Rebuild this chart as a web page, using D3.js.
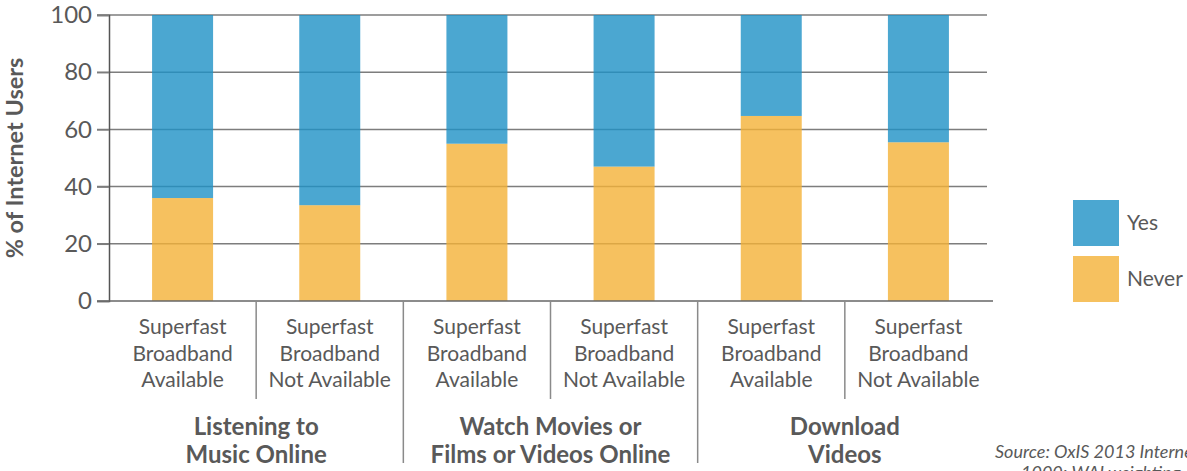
<!DOCTYPE html>
<html>
<head>
<meta charset="utf-8">
<script src="https://cdn.jsdelivr.net/npm/d3@7"></script>
<style>
  body { margin: 0; background: #fff; }
  svg { display: block; font-family: Lato, 'Open Sans', sans-serif; }
</style>
</head>
<body>
<svg width="1187" height="471"></svg>
<script>
// data
const groups = [['Listening to', 'Music Online'], ['Watch Movies or', 'Films or Videos Online'], ['Download', 'Videos']];
const bars = ['m-avail', 'm-not', 'f-avail', 'f-not', 'd-avail', 'd-not'];
const barGroup = [0, 0, 1, 1, 2, 2];
const subLabels = [
  ['Superfast', 'Broadband', 'Available'],
  ['Superfast', 'Broadband', 'Not Available']
];
const neverVals = [36, 33.5, 55, 47, 64.7, 55.5];
const yesVals = [64, 66.5, 45, 53, 35.3, 44.5];
const yTicks = [0, 20, 40, 60, 80, 100];
const seriesNames = ['Never', 'Yes'];

const svg = d3.select('svg');
const textColor = '#595959';
const colors = { Never: '#f4b237', Yes: '#1e91c5' };

const x = d3.scaleBand().domain(bars).range([109, 992]).padding(0);
const y = d3.scaleLinear().domain([0, 100]).range([301, 15]);
const barW = 61;

const table = bars.map((b, i) => ({ key: b, Never: neverVals[i], Yes: yesVals[i] }));
const stacked = d3.stack().keys(seriesNames)(table);

//gridlines
svg.append('g').selectAll('line')
  .data(yTicks.filter(t => t > 0)).enter()
  .append('line')
  .attr('x1', 97).attr('x2', 987)
  .attr('y1', d => y(d)).attr('y2', d => y(d))
  .attr('stroke', '#7d7d7d')
  .attr('stroke-width', 1.5);

//bars
svg.append('g').selectAll('g')
  .data(stacked).enter()
  .append('g')
  .attr('fill', d => colors[d.key])
  .attr('fill-opacity', 0.8)
  .selectAll('rect')
  .data(d => d).enter()
  .append('rect')
  .attr('x', d => x(d.data.key) + x.bandwidth() / 2 - barW / 2)
  .attr('width', barW)
  .attr('y', d => y(d[1]))
  .attr('height', d => y(d[0]) - y(d[1]));

//y axis
const yAxis = svg.append('g')
  .attr('transform', 'translate(109,0)')
  .call(d3.axisLeft(y).tickValues(yTicks).tickSize(12).tickPadding(5));
yAxis.select('.domain').attr('stroke', '#555').attr('stroke-width', 1.5);
yAxis.selectAll('.tick line').attr('stroke', '#7d7d7d').attr('stroke-width', 1.5);
yAxis.selectAll('.tick text')
  .attr('fill', textColor)
  .style('font-size', '24px')
  .style('font-family', 'Lato');

svg.append('text')
  .attr('transform', 'translate(23,158) rotate(-90)')
  .attr('text-anchor', 'middle')
  .attr('fill', textColor)
  .style('font-size', '23.5px')
  .style('font-weight', 'bold')
  .text('% of Internet Users');

//baseline
svg.append('line')
  .attr('x1', 97).attr('x2', 993)
  .attr('y1', y(0)).attr('y2', y(0))
  .attr('stroke', '#666').attr('stroke-width', 1.5);

//separators under the axis
svg.append('g').selectAll('line')
  .data(bars.slice(1)).enter()
  .append('line')
  .attr('x1', d => x(d)).attr('x2', d => x(d))
  .attr('y1', y(0))
  .attr('y2', (d, i) => barGroup[i + 1] !== barGroup[i] ? 463 : 399)
  .attr('stroke', '#8a8a8a').attr('stroke-width', 1.5);

//sub labels
svg.append('g').selectAll('text')
  .data(bars).enter()
  .append('text')
  .attr('text-anchor', 'middle')
  .attr('fill', textColor)
  .style('font-size', '21px')
  .each(function(d, i) {
    const lines = subLabels[i % 2];
    const cx = x(d) + x.bandwidth() / 2;
    lines.forEach((l, j) => {
      d3.select(this).append('tspan')
        .attr('x', cx)
        .attr('y', 334 + j * 26.5)
        .text(l);
    });
  });

//group labels
svg.append('g').selectAll('text')
  .data(groups).enter()
  .append('text')
  .attr('text-anchor', 'middle')
  .attr('fill', textColor)
  .style('font-size', '24px')
  .style('font-weight', 'bold')
  .each(function(d, gi) {
    const members = bars.filter((b, i) => barGroup[i] === gi);
    const cx = (x(members[0]) + x(members[members.length - 1]) + x.bandwidth()) / 2;
    d.forEach((l, j) => {
      d3.select(this).append('tspan')
        .attr('x', cx)
        .attr('y', 435 + j * 27.5)
        .text(l);
    });
  });

//legend
const legend = svg.append('g').selectAll('g')
  .data(['Yes', 'Never']).enter()
  .append('g')
  .attr('transform', (d, i) => `translate(1073,${200 + i * 56})`);
legend.append('rect')
  .attr('width', 46).attr('height', 46)
  .attr('fill', d => colors[d]).attr('fill-opacity', 0.8);
legend.append('text')
  .attr('x', 54).attr('y', 23).attr('dy', '0.35em')
  .attr('fill', textColor)
  .style('font-size', '21px')
  .text(d => d);

//source note (runs off the right edge, as in the original)
svg.append('text')
  .attr('x', 995).attr('y', 458)
  .attr('fill', textColor)
  .style('font-size', '18px')
  .style('font-style', 'italic')
  .text('Source: OxIS 2013 Internet Survey');
svg.append('text')
  .attr('x', 1021).attr('y', 479)
  .attr('fill', textColor)
  .style('font-size', '18px')
  .style('font-style', 'italic')
  .text('1000; WAI weighting');
</script>
</body>
</html>
